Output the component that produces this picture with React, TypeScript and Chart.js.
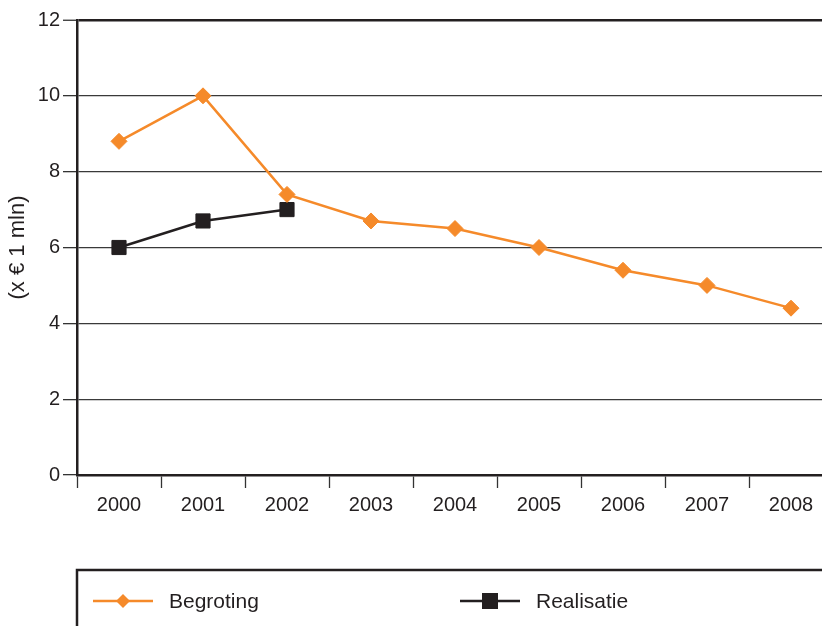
import React, { useEffect, useRef } from "react";
import { Chart, registerables } from "chart.js";

Chart.register(...registerables);

const years = ["2000", "2001", "2002", "2003", "2004", "2005", "2006", "2007", "2008"];
const begroting = [8.8, 10.0, 7.4, 6.7, 6.5, 6.0, 5.4, 5.0, 4.4];
const realisatie = [6.0, 6.7, 7.0, null, null, null, null, null, null];
const seriesNames = ["Begroting", "Realisatie"];
const yTitle = "(x € 1 mln)";

const ORANGE = "#F58A2A";
const DARK = "#231F20";
const FONT = "'Liberation Sans', Arial, Helvetica, sans-serif";

const CANVAS_W = 860;
const CANVAS_H = 626;

function drawMarker(ctx: CanvasRenderingContext2D, style: string, x: number, y: number, r: number, color: string) {
  ctx.save();
  ctx.fillStyle = color;
  ctx.beginPath();
  if (style === "rectRot") {
    ctx.moveTo(x, y - r);
    ctx.lineTo(x + r, y);
    ctx.lineTo(x, y + r);
    ctx.lineTo(x - r, y);
  } else {
    ctx.rect(x - r, y - r, 2 * r, 2 * r);
  }
  ctx.closePath();
  ctx.fill();
  ctx.restore();
}

// Boxed legend below the x axis: a line segment with the series marker, then its name.
const boxLegend = {
  id: "boxLegend",
  afterDraw(chart: any) {
    const ctx: CanvasRenderingContext2D = chart.ctx;
    const left = chart.chartArea.left;
    const top = 570;
    ctx.save();
    ctx.strokeStyle = DARK;
    ctx.lineWidth = 2.5;
    ctx.beginPath();
    ctx.moveTo(left, CANVAS_H + 5);
    ctx.lineTo(left, top);
    ctx.lineTo(CANVAS_W + 5, top);
    ctx.stroke();

    const items = [
      { x0: 93, x1: 153, mx: 123, tx: 169, ds: chart.data.datasets[0], r: 7 },
      { x0: 460, x1: 520, mx: 490, tx: 536, ds: chart.data.datasets[1], r: 8 },
    ];
    const y = 601;
    items.forEach((it) => {
      ctx.strokeStyle = it.ds.borderColor;
      ctx.lineWidth = 2.5;
      ctx.beginPath();
      ctx.moveTo(it.x0, y);
      ctx.lineTo(it.x1, y);
      ctx.stroke();
      drawMarker(ctx, it.ds.pointStyle, it.mx, y, it.r, it.ds.borderColor);
      ctx.fillStyle = DARK;
      ctx.font = `21px ${FONT}`;
      ctx.textBaseline = "middle";
      ctx.textAlign = "left";
      ctx.fillText(it.ds.label, it.tx, y + 1);
    });
    ctx.restore();
  },
};

export default function App() {
  const canvasRef = useRef<HTMLCanvasElement | null>(null);

  useEffect(() => {
    const canvas = canvasRef.current;
    if (!canvas) return;
    const chart = new Chart(canvas, {
      type: "line",
      data: {
        labels: years,
        datasets: [
          {
            label: seriesNames[0],
            data: begroting,
            borderColor: ORANGE,
            backgroundColor: ORANGE,
            borderWidth: 2.5,
            pointStyle: "rectRot",
            pointRadius: 8,
            pointBorderWidth: 1,
            pointBackgroundColor: ORANGE,
            pointBorderColor: ORANGE,
            tension: 0,
          },
          {
            label: seriesNames[1],
            data: realisatie,
            borderColor: DARK,
            backgroundColor: DARK,
            borderWidth: 2.5,
            pointStyle: "rect",
            pointRadius: 10,
            pointBorderWidth: 1,
            pointBackgroundColor: DARK,
            pointBorderColor: DARK,
            tension: 0,
          },
        ],
      },
      options: {
        responsive: false,
        animation: false,
        layout: { padding: { left: 0, top: 20, right: CANVAS_W - 833, bottom: 0 } },
        plugins: {
          legend: { display: false },
          tooltip: { enabled: false },
        },
        scales: {
          x: {
            offset: true,
            grid: {
              offset: true,
              drawOnChartArea: false,
              drawTicks: true,
              tickLength: 13,
              tickColor: "#333",
              tickWidth: 1.3,
            },
            border: { display: true, color: DARK, width: 2.5 },
            ticks: {
              color: DARK,
              padding: 5,
              font: { family: FONT, size: 20 },
              maxRotation: 0,
            },
            afterFit(scale: any) {
              scale.height = CANVAS_H - 475;
            },
          },
          y: {
            min: 0,
            max: 12,
            ticks: {
              stepSize: 2,
              color: DARK,
              padding: 3,
              font: { family: FONT, size: 20 },
            },
            grid: {
              color: (c: any) => (c.tick && c.tick.value === 12 ? DARK : "#3a3a3a"),
              lineWidth: (c: any) => (c.tick && c.tick.value === 12 ? 2.5 : 1.3),
              tickLength: 14,
              tickColor: "#333",
              tickWidth: 1.3,
            },
            border: { display: true, color: DARK, width: 2.5 },
            title: {
              display: true,
              text: yTitle,
              color: DARK,
              font: { family: FONT, size: 22 },
              padding: { top: 5, bottom: 0 },
            },
            afterFit(scale: any) {
              scale.width = 77;
            },
          },
        },
      },
      plugins: [boxLegend],
    });
    return () => chart.destroy();
  }, []);

  return (
    <div
      style={{
        position: "fixed",
        left: 0,
        top: 0,
        width: 822,
        height: 626,
        overflow: "hidden",
        background: "#fff",
      }}
    >
      <canvas
        ref={canvasRef}
        width={CANVAS_W}
        height={CANVAS_H}
        style={{ display: "block", width: CANVAS_W, height: CANVAS_H }}
      />
    </div>
  );
}
